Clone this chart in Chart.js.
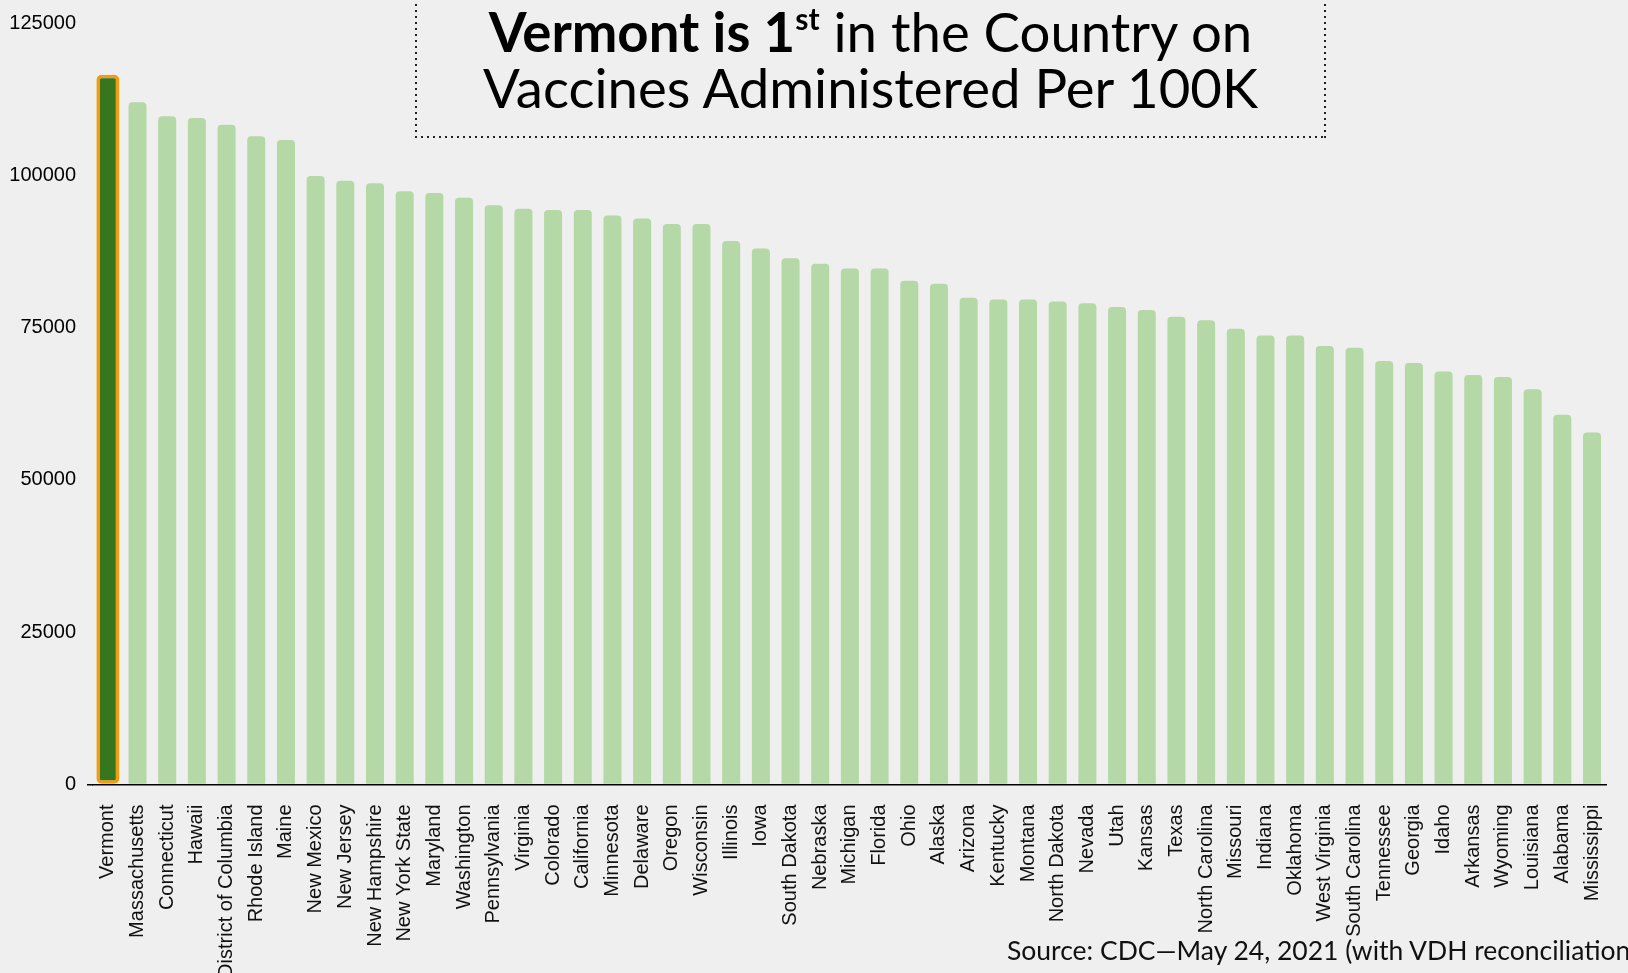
<!DOCTYPE html>
<html>
<head>
<meta charset="utf-8">
<title>Vaccines Administered Per 100K</title>
<script src="https://cdn.jsdelivr.net/npm/chart.js@4.4.1/dist/chart.umd.min.js"></script>
<style>
    html, body { margin: 0; padding: 0; background: #efefef; overflow: hidden; }
    #wrap { position: relative; width: 1628px; height: 973px; overflow: hidden; }
    #chart { position: absolute; left: 0; top: 0; }
    #titleBox {
        position: absolute; left: 415px; top: -20px; width: 911px; height: 158px;
        box-sizing: border-box;
        background:
            repeating-linear-gradient(to right, #222 0 2px, transparent 2px 6px) left bottom / 100% 2px no-repeat,
            repeating-linear-gradient(to bottom, #222 0 2px, transparent 2px 6px) left top / 2px 100% no-repeat,
            repeating-linear-gradient(to bottom, #222 0 2px, transparent 2px 6px) right top / 2px 100% no-repeat;
        font-family: Lato, "Open Sans", sans-serif; font-size: 54.5px; line-height: 56px;
        color: #000; text-align: center; padding-top: 23px;
    }
    #titleBox b { font-weight: 700; }
    #titleBox sup { font-size: 0.55em; vertical-align: 0; position: relative; top: -0.75em; line-height: 0; }
    #source {
        position: absolute; left: 1007px; top: 934px; white-space: nowrap;
        font-family: Lato, "Open Sans", sans-serif; font-size: 26.5px; color: #111;
    }
</style>
</head>
<body>
<div id="wrap">
    <canvas id="chart" width="1628" height="973"></canvas>
    <div id="titleBox"><b>Vermont is 1<sup>st</sup></b> in the Country on<br>Vaccines Administered Per 100K</div>
    <div id="source">Source: CDC—May 24, 2021 (with VDH reconciliation)</div>
</div>
<script>
document.addEventListener('DOMContentLoaded', function () {
    // data
    const states = ['Vermont', 'Massachusetts', 'Connecticut', 'Hawaii', 'District of Columbia', 'Rhode Island',
        'Maine', 'New Mexico', 'New Jersey', 'New Hampshire', 'New York State', 'Maryland', 'Washington',
        'Pennsylvania', 'Virginia', 'Colorado', 'California', 'Minnesota', 'Delaware', 'Oregon', 'Wisconsin',
        'Illinois', 'Iowa', 'South Dakota', 'Nebraska', 'Michigan', 'Florida', 'Ohio', 'Alaska', 'Arizona',
        'Kentucky', 'Montana', 'North Dakota', 'Nevada', 'Utah', 'Kansas', 'Texas', 'North Carolina', 'Missouri',
        'Indiana', 'Oklahoma', 'West Virginia', 'South Carolina', 'Tennessee', 'Georgia', 'Idaho', 'Arkansas',
        'Wyoming', 'Louisiana', 'Alabama', 'Mississippi'];
    const perHundredK = [116500, 112000, 109700, 109400, 108300, 106400, 105800, 99900, 99100, 98700,
        97400, 97100, 96300, 95100, 94500, 94300, 94300, 93400, 92900, 92000, 92000,
        89200, 88000, 86400, 85500, 84700, 84700, 82700, 82200, 79900, 79600, 79600,
        79300, 79000, 78400, 77900, 76800, 76200, 74800, 73700, 73700, 72000, 71700,
        69500, 69200, 67800, 67200, 66900, 64900, 60700, 57800];
    const yTicks = [0, 25000, 50000, 75000, 100000, 125000];
    const highlightState = 'Vermont';

    const hi = states.indexOf(highlightState);
    const otherBars = perHundredK.map((v, i) => i === hi ? null : v);
    const highlightBar = perHundredK.map((v, i) => i === hi ? v : null);

    new Chart(document.getElementById('chart').getContext('2d'), {
        type: 'bar',
        data: {
            labels: states,
            datasets: [{
                data: otherBars,
                backgroundColor: '#b5d8a7',
                borderRadius: 4,
                grouped: false,
                categoryPercentage: 1,
                barPercentage: 0.607
            }, {
                data: highlightBar,
                backgroundColor: '#38761d',
                borderColor: '#f39c12',
                borderWidth: 3.5,
                borderSkipped: false,
                borderRadius: 5,
                grouped: false,
                categoryPercentage: 1,
                barPercentage: 0.773
            }]
        },
        options: {
            responsive: false,
            animation: false,
            layout: { padding: { top: 20, right: 0 } },
            plugins: { legend: { display: false }, tooltip: { enabled: false } },
            scales: {
                x: {
                    grid: { display: false },
                    border: { display: true, color: '#000', width: 1.5 },
                    ticks: {
                        autoSkip: false, maxRotation: 90, minRotation: 90,
                        padding: 12, color: '#111',
                        font: { family: 'Liberation Sans', size: 20 }
                    },
                    afterFit: function (scale) { scale.height = 188.5; }
                },
                y: {
                    min: yTicks[0],
                    max: yTicks[yTicks.length - 1],
                    afterBuildTicks: function (scale) {
                        scale.ticks = yTicks.map(v => ({ value: v }));
                    },
                    border: { display: false },
                    grid: {
                        drawOnChartArea: false, tickLength: 6, lineWidth: 1.5,
                        color: ctx => ctx.tick && ctx.tick.value === 0 ? '#000' : 'rgba(0,0,0,0)'
                    },
                    ticks: {
                        padding: 11, color: '#000',
                        font: { family: 'Liberation Sans', size: 20 },
                        callback: value => String(value)
                    },
                    afterFit: function (scale) { scale.width = 93; }
                }
            }
        }
    });
});
</script>
</body>
</html>
